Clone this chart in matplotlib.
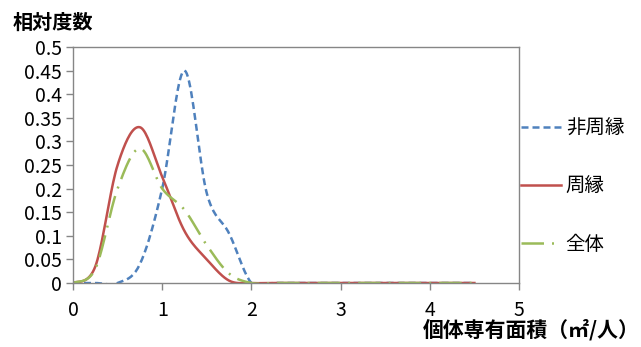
import matplotlib
matplotlib.use("Agg")
import matplotlib.pyplot as plt
import numpy as np

plt.rcParams["font.family"] = ["Noto Sans CJK JP", "DejaVu Sans"]

# data (x step 0.25 m2/person)
x_vals = [0, 0.25, 0.5, 0.75, 1.0, 1.25, 1.5, 1.75, 2.0, 2.25, 2.5, 2.75,
          3.0, 3.25, 3.5, 3.75, 4.0, 4.25, 4.5]
non_edge = [0, 0, 0, 0.04, 0.20, 0.45, 0.19, 0.105, 0, 0, 0, 0, 0, 0, 0, 0, 0, 0, 0]
edge = [0, 0.035, 0.25, 0.33, 0.225, 0.11, 0.05, 0.005, 0, 0, 0, 0, 0, 0, 0, 0, 0, 0, 0]
total = [0, 0.03, 0.20, 0.285, 0.20, 0.155, 0.08, 0.02, 0, 0, 0, 0, 0, 0, 0, 0, 0, 0, 0]

series_names = ["非周縁", "周縁", "全体"]
y_ticks = [0, 0.05, 0.1, 0.15, 0.2, 0.25, 0.3, 0.35, 0.4, 0.45, 0.5]
y_tick_labels = ["0", "0.05", "0.1", "0.15", "0.2", "0.25", "0.3", "0.35", "0.4", "0.45", "0.5"]
x_ticks = [0, 1, 2, 3, 4, 5]

BLUE = "#4f81bd"
RED = "#c0504d"
GREEN = "#9bbb59"
GRAY = "#868686"


def smooth(xs, ys, n=20):
    # Excel-style smoothed line: Catmull-Rom through the points
    xs, ys = np.asarray(xs, float), np.asarray(ys, float)
    px = np.concatenate([[xs[0]], xs, [xs[-1]]])
    py = np.concatenate([[ys[0]], ys, [ys[-1]]])
    t = np.linspace(0, 1, n, endpoint=False)
    ox, oy = [], []
    for i in range(1, len(px) - 2):
        for p, o in ((px, ox), (py, oy)):
            p0, p1, p2, p3 = p[i - 1], p[i], p[i + 1], p[i + 2]
            o.extend(0.5 * (2 * p1 + (-p0 + p2) * t
                            + (2 * p0 - 5 * p1 + 4 * p2 - p3) * t ** 2
                            + (-p0 + 3 * p1 - 3 * p2 + p3) * t ** 3))
    ox.append(xs[-1]); oy.append(ys[-1])
    return np.array(ox), np.array(oy)


fig = plt.figure(figsize=(6.41, 3.47), dpi=100)
ax = fig.add_axes([73 / 641, 1 - 283 / 347, 446 / 641, 236 / 347])

lw = 1.8
sx, sy = smooth(x_vals, non_edge)
ax.plot(sx, sy, color=BLUE, lw=lw, dashes=(2.8, 1.6), label=series_names[0])
sx, sy = smooth(x_vals, edge)
ax.plot(sx, sy, color=RED, lw=lw, label=series_names[1])
sx, sy = smooth(x_vals, total)
ax.plot(sx, sy, color=GREEN, lw=lw, dashes=(9, 3.2, 0.8, 3.2), label=series_names[2])

ax.set_xlim(0, 5)
ax.set_ylim(0, 0.5)
ax.set_xticks(x_ticks)
ax.set_yticks(y_ticks)
ax.set_yticklabels(y_tick_labels)
ax.tick_params(axis="both", direction="out", length=5, width=1, color=GRAY,
               labelsize=14, pad=3)
ax.tick_params(axis="x", pad=7)
for s in ax.spines.values():
    s.set_color(GRAY)
    s.set_linewidth(1)

fig.text(13 / 641, 1 - 22 / 347, "相対度数", fontsize=14.5, fontweight="bold",
         va="center", ha="left")
fig.text(640 / 641, 1 - 330 / 347, "個体専有面積（㎡/人）", fontsize=15,
         fontweight="bold", va="center", ha="right")

ax.legend(loc="center left", bbox_to_anchor=(521 / 641, 1 - 186.5 / 347),
          bbox_transform=fig.transFigure, frameon=False, fontsize=14,
          borderpad=0, borderaxespad=0, handlelength=2.05, handletextpad=0.25,
          labelspacing=1.9)

fig.savefig("out.png", dpi=100)
